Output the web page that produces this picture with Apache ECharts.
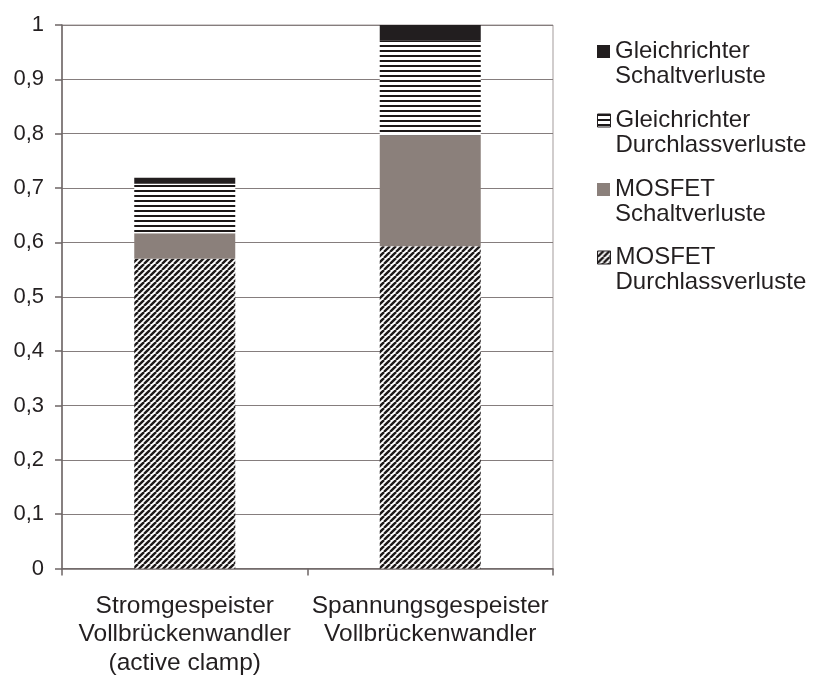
<!DOCTYPE html>
<html>
<head>
<meta charset="utf-8">
<script src="https://cdn.jsdelivr.net/npm/echarts@6/dist/echarts.min.js"></script>
<style>
  html, body { margin: 0; padding: 0; background: #fff; }
  #chart { width: 813px; height: 677px; }
</style>
</head>
<body>
<div id="chart"></div>
<script>
// Converter variants on the x axis
const categories = [
  'Stromgespeister\nVollbrückenwandler\n(active clamp)',
  'Spannungsgespeister\nVollbrückenwandler'
];

// Loss components (normalised), bottom to top of each stack
const mosfetDurchlass = [0.570, 0.593];
const mosfetSchalt    = [0.047, 0.204];
const gleichDurchlass = [0.091, 0.174];
const gleichSchalt    = [0.011, 0.029];

// Series names
const nameMosfetDurchlass = 'MOSFET\nDurchlassverluste';
const nameMosfetSchalt    = 'MOSFET\nSchaltverluste';
const nameGleichDurchlass = 'Gleichrichter\nDurchlassverluste';
const nameGleichSchalt    = 'Gleichrichter\nSchaltverluste';

// Y axis tick labels (German decimal comma)
const yTickLabels = ['0', '0,1', '0,2', '0,3', '0,4', '0,5', '0,6', '0,7', '0,8', '0,9', '1'];

const FONT = 'Liberation Sans, Arial, Helvetica, sans-serif';
const INK = '#231f20';
const AXIS = '#6e6666';

// Diagonal "/" hatch tile
function diagonalHatch() {
  const c = document.createElement('canvas');
  c.width = 6; c.height = 6;
  const g = c.getContext('2d');
  g.fillStyle = '#ffffff';
  g.fillRect(0, 0, 6, 6);
  g.strokeStyle = '#1c1818';
  g.lineWidth = 2.4;
  for (const o of [-6, 0, 6]) {
    g.beginPath();
    g.moveTo(o, 6);
    g.lineTo(o + 6, 0);
    g.stroke();
  }
  return c;
}

// Horizontal stripe tile
function horizontalHatch() {
  const c = document.createElement('canvas');
  c.width = 4; c.height = 5;
  const g = c.getContext('2d');
  g.fillStyle = '#ffffff';
  g.fillRect(0, 0, 4, 5);
  g.fillStyle = '#1c1818';
  g.fillRect(0, 0, 4, 2);
  return c;
}

const diagFill = { image: diagonalHatch(), repeat: 'repeat' };
const horizFill = { image: horizontalHatch(), repeat: 'repeat' };

// Legend: one block per entry; a leading blank line puts the icon level with the first text line
const legendEntries = [
  { name: nameGleichSchalt,    top: 14,  border: false },
  { name: nameGleichDurchlass, top: 83,  border: true },
  { name: nameMosfetSchalt,    top: 152, border: false },
  { name: nameMosfetDurchlass, top: 220, border: true }
];

const legends = legendEntries.map(e => ({
  data: [{
    name: e.name,
    itemStyle: e.border ? { borderColor: INK, borderWidth: 1 } : { borderWidth: 0 }
  }],
  left: 597,
  top: e.top,
  padding: 0,
  orient: 'vertical',
  icon: 'rect',
  itemWidth: 13,
  itemHeight: 13,
  selectedMode: false,
  formatter: name => '\n' + name,
  textStyle: {
    fontFamily: FONT,
    fontSize: 24,
    lineHeight: 25,
    color: INK
  }
}));

const barWidth = 101;

const option = {
  animation: false,
  backgroundColor: '#ffffff',
  legend: legends,
  grid: {
    left: 62, right: 260, top: 25, bottom: 107,
    show: true,
    borderColor: '#a39b9b',
    borderWidth: 1,
    backgroundColor: 'transparent'
  },
  xAxis: {
    type: 'category',
    data: categories,
    axisLine: { lineStyle: { color: AXIS, width: 1.5 } },
    axisTick: { show: true, length: 7, lineStyle: { color: AXIS, width: 1.5 } },
    axisLabel: {
      interval: 0,
      fontFamily: FONT,
      fontSize: 24.5,
      lineHeight: 28.5,
      color: INK,
      margin: 23
    }
  },
  yAxis: {
    type: 'value',
    min: 0,
    max: 1,
    interval: 0.1,
    axisLine: { show: true, lineStyle: { color: AXIS, width: 1.5 } },
    axisTick: { show: true, length: 7, lineStyle: { color: AXIS, width: 1.5 } },
    splitLine: { lineStyle: { color: '#857d7d', width: 1 } },
    axisLabel: {
      fontFamily: FONT,
      fontSize: 22,
      color: INK,
      margin: 18,
      formatter: v => yTickLabels[Math.round(v * 10)]
    }
  },
  series: [
    {
      name: nameMosfetDurchlass, type: 'bar', stack: 'total', barWidth,
      data: mosfetDurchlass,
      itemStyle: { color: diagFill }
    },
    {
      name: nameMosfetSchalt, type: 'bar', stack: 'total', barWidth,
      data: mosfetSchalt,
      itemStyle: { color: '#8b807b' }
    },
    {
      name: nameGleichDurchlass, type: 'bar', stack: 'total', barWidth,
      data: gleichDurchlass,
      itemStyle: { color: horizFill }
    },
    {
      name: nameGleichSchalt, type: 'bar', stack: 'total', barWidth,
      data: gleichSchalt,
      itemStyle: { color: '#221e1f' }
    }
  ]
};

const chart = echarts.init(document.getElementById('chart'), null, { renderer: 'canvas' });
chart.setOption(option);
</script>
</body>
</html>
